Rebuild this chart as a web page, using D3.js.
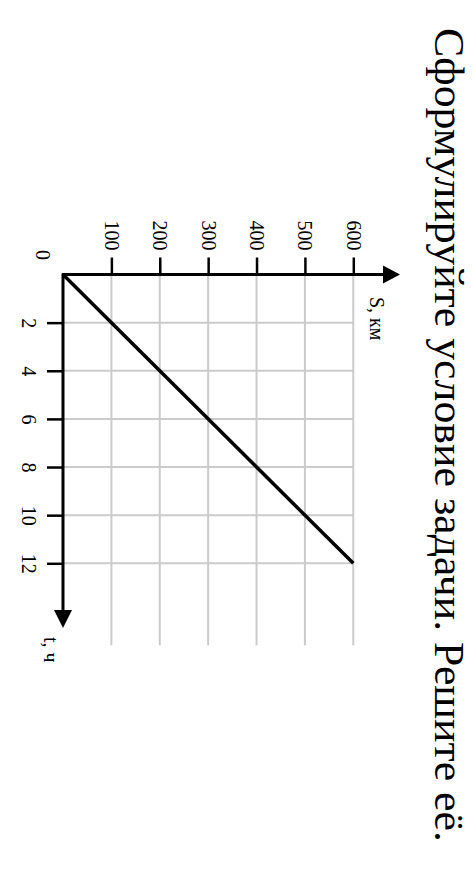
<!DOCTYPE html>
<html><head><meta charset="utf-8">
<script src="https://cdn.jsdelivr.net/npm/d3@7"></script>
<style>body{margin:0;background:#fff}svg{display:block}text{font-family:"Liberation Serif","Times New Roman",serif}</style>
</head><body>
<script>
const title = "Сформулируйте условие задачи. Решите её.";
const sTicks = [100, 200, 300, 400, 500, 600];
const tTicks = [2, 4, 6, 8, 10, 12];
const tValues = [0, 12];
const sValues = [0, 600];
const sLabel = "S, км";
const tLabel = "t, ч";
const originLabel = "0";

const W = 474, H = 882;
const svg = d3.select("body").append("svg").attr("width", W).attr("height", H);
svg.append("rect").attr("width", W).attr("height", H).attr("fill", "#fff");

const x = d3.scaleLinear().domain([0, 600]).range([63, 353.3]);
const y = d3.scaleLinear().domain([0, 12]).range([274.5, 563.3]);
const gridEndT = 15.4;

// grid
const g = svg.append("g");
g.selectAll(".vg").data(sTicks).join("line")
  .attr("x1", d => x(d)).attr("x2", d => x(d))
  .attr("y1", y(0)).attr("y2", y(gridEndT))
  .attr("stroke", "#cbcbcb").attr("stroke-width", 2);
g.selectAll(".hg").data(tTicks).join("line")
  .attr("x1", x(0)).attr("x2", x(600))
  .attr("y1", d => y(d)).attr("y2", d => y(d))
  .attr("stroke", "#cbcbcb").attr("stroke-width", 2);

// axes
const ax = svg.append("g").attr("transform", `translate(0,${y(0)})`)
  .call(d3.axisTop(x).tickValues(sTicks).tickSize(17).tickSizeOuter(0));
ax.select(".domain").remove();
ax.selectAll(".tick line").attr("stroke", "#000").attr("stroke-width", 2.5);
ax.selectAll(".tick text")
  .attr("x", 0).attr("y", 0).attr("dy", "0.35em")
  .attr("transform", "translate(0,-24) rotate(90)")
  .attr("text-anchor", "end").attr("font-size", 20).attr("fill", "#000")
  .style("font-family", '"Liberation Serif","Times New Roman",serif');

const ay = svg.append("g").attr("transform", `translate(${x(0)},0)`)
  .call(d3.axisLeft(y).tickValues(tTicks).tickSize(16).tickSizeOuter(0));
ay.select(".domain").remove();
ay.selectAll(".tick line").attr("stroke", "#000").attr("stroke-width", 2.5);
ay.selectAll(".tick text")
  .attr("x", 0).attr("y", 0).attr("dy", "0.35em")
  .attr("transform", "translate(-34,0) rotate(90)")
  .attr("text-anchor", "middle").attr("font-size", 20).attr("fill", "#000")
  .style("font-family", '"Liberation Serif","Times New Roman",serif');

// axis lines with arrows
svg.append("line").attr("x1", x(0) - 1).attr("x2", 390).attr("y1", y(0)).attr("y2", y(0))
  .attr("stroke", "#000").attr("stroke-width", 3);
svg.append("path").attr("d", `M400,${y(0)} L383,${y(0) - 9} L383,${y(0) + 9} Z`).attr("fill", "#000");
svg.append("line").attr("x1", x(0)).attr("x2", x(0)).attr("y1", y(0) - 1).attr("y2", 615)
  .attr("stroke", "#000").attr("stroke-width", 3);
svg.append("path").attr("d", `M${x(0)},628 L${x(0) - 9},610 L${x(0) + 9},610 Z`).attr("fill", "#000");

// data line
const line = d3.line().x((d, i) => x(sValues[i])).y((d, i) => y(tValues[i]));
svg.append("path").datum(tValues).attr("d", line)
  .attr("fill", "none").attr("stroke", "#000").attr("stroke-width", 3.5);

// labels
function rot(txt, px, py, size, anchor) {
  return svg.append("text").attr("transform", `translate(${px},${py}) rotate(90)`)
    .attr("text-anchor", anchor).attr("dy", "0.35em").attr("font-size", size).attr("fill", "#000").text(txt);
}
rot(originLabel, 43, 255, 20, "middle");
rot(sLabel, 377, 297, 20, "start");
rot(tLabel, 51, 637, 20, "start");

svg.append("text").attr("transform", `translate(435,28) rotate(90)`)
  .attr("font-size", 42).attr("fill", "#000")
  .attr("textLength", 814).attr("lengthAdjust", "spacingAndGlyphs")
  .text(title);
</script>
</body></html>
